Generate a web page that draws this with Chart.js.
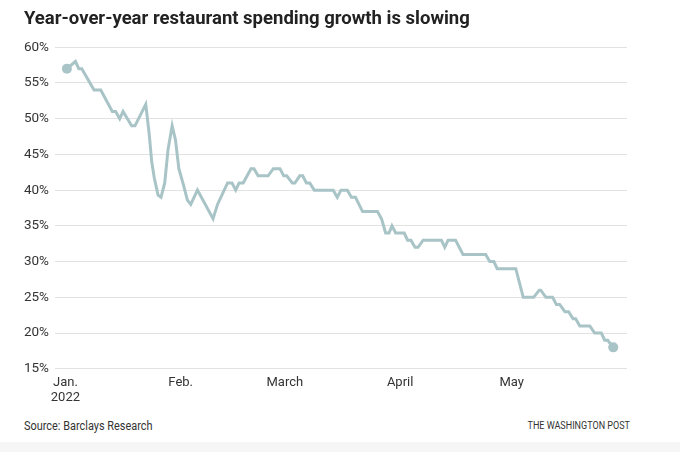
<!DOCTYPE html>
<html>
<head>
<meta charset="utf-8">
<script src="https://cdn.jsdelivr.net/npm/chart.js"></script>
<style>
  html, body { margin: 0; padding: 0; background: #fff; }
  #wrap { position: relative; width: 680px; height: 452px; overflow: hidden; }
  #chartBox { position: absolute; left: 0; top: 0; width: 680px; height: 412px; }
  .foot { position: absolute; top: 419px; font-family: Roboto, sans-serif; color: #333; white-space: nowrap; }
  #source { left: 24px; font-size: 12px; transform: scaleX(0.91); transform-origin: left center; }
  #credit { right: 50px; font-size: 11px; transform: scaleX(0.82); transform-origin: right center; }
  #strip { position: absolute; left: 0; right: 0; top: 442px; height: 10px; background: #f6f6f6; }
</style>
</head>
<body>
<div id="wrap">
  <div id="chartBox"><canvas id="myChart"></canvas></div>
  <div class="foot" id="source">Source: Barclays Research</div>
  <div class="foot" id="credit">THE WASHINGTON POST</div>
  <div id="strip"></div>
</div>
<script>
// days since Jan. 1, 2022 (vertices of the line)
const days = [0.4, 2.7, 3.6, 4.4, 7.7, 9.5, 12.6, 13.5, 14.6, 15.5, 17.8, 18.7, 21.6, 22.5, 23.2, 23.9, 24.9, 25.7,
  26.7, 27.6, 28.7, 29.6, 30.5, 31.7, 32.8, 33.7, 35.5, 39.7, 40.9, 43.6, 44.8, 45.8, 46.7, 47.8, 49.9, 50.7,
  51.8, 54.5, 55.9, 57.7, 58.7, 59.5, 61, 61.7, 63, 63.8, 64.8, 65.7, 66.9, 72, 73.1, 74.1, 75.8, 76.9, 78,
  79.9, 83.9, 85, 86.1, 87, 87.8, 88.8, 91.1, 92, 92.9, 94, 94.8, 96.2, 101.1, 102, 102.9, 104.9, 106.9, 113,
  114.1, 115.2, 116.1, 121.1, 123.1, 125.9, 127.4, 127.8, 129.2, 131, 132, 132.9, 134.3, 135.3, 136.5, 137.2,
  138.3, 141, 142.3, 144.1, 145, 145.8, 147.3];
// year-over-year growth, percent
const growth = [57, 58, 57, 57, 54, 54, 51, 51, 50, 51, 49, 49, 52, 48, 44, 41.7, 39.3, 39,
  41, 45.7, 49, 47, 43, 40.8, 38.6, 38, 40, 36, 38, 41, 41, 40, 41, 41, 43, 43,
  42, 42, 43, 43, 42, 42, 41, 41, 42, 42, 41, 41, 40, 40, 39, 40, 40, 39, 39,
  37, 37, 36, 34, 34, 35, 34, 34, 33, 33, 32, 32, 33, 33, 32, 33, 33, 31, 31,
  30, 30, 29, 29, 25, 25, 26, 26, 25, 25, 24, 24, 23, 23, 22, 22,
  21, 21, 20, 20, 19, 19, 18];

const monthTicks = [0, 31, 59, 90, 120];
const monthLabels = [['Jan.', '2022'], 'Feb.', 'March', 'April', 'May'];
const yTicks = [15, 20, 25, 30, 35, 40, 45, 50, 55, 60];

const lineColor = '#a9c4c7';
const last = days.length - 1;

const ctx = document.getElementById('myChart');
new Chart(ctx, {
  type: 'line',
  data: {
    datasets: [{
      label: 'Restaurant spending growth',
      data: days.map((d, i) => ({ x: d, y: growth[i] })),
      borderColor: lineColor,
      backgroundColor: lineColor,
      borderWidth: 3,
      tension: 0,
      pointRadius: c => (c.dataIndex === 0 || c.dataIndex === last) ? 5 : 0,
      pointHoverRadius: 0,
      pointBorderWidth: 0
    }]
  },
  options: {
    responsive: true,
    maintainAspectRatio: false,
    animation: false,
    layout: { padding: { left: 24, right: 53, top: 0, bottom: 0 } },
    plugins: {
      legend: { display: false },
      tooltip: { enabled: false },
      title: {
        display: true,
        text: 'Year-over-year restaurant spending growth is slowing',
        align: 'start',
        color: '#222',
        font: { family: 'Roboto', size: 18.5, weight: 'bold' },
        padding: { top: 8, bottom: 17 }
      }
    },
    scales: {
      x: {
        type: 'linear',
        min: -2.8,
        max: 151,
        afterBuildTicks: axis => { axis.ticks = monthTicks.map(v => ({ value: v })); },
        ticks: {
          autoSkip: false,
          maxRotation: 0,
          padding: 6,
          color: '#333',
          font: { family: 'Roboto', size: 13 },
          callback: v => monthLabels[monthTicks.indexOf(v)]
        },
        grid: { display: false, drawTicks: false },
        border: { display: false }
      },
      y: {
        min: 15,
        max: 60,
        afterBuildTicks: axis => { axis.ticks = yTicks.map(v => ({ value: v })); },
        afterFit: axis => { axis.width = 31; },
        ticks: {
          padding: 6,
          color: '#333',
          font: { family: 'Roboto', size: 13.5 },
          callback: v => v + '%'
        },
        grid: { color: '#e2e2e2', lineWidth: 1, drawTicks: false },
        border: { display: false }
      }
    }
  }
});
</script>
</body>
</html>
